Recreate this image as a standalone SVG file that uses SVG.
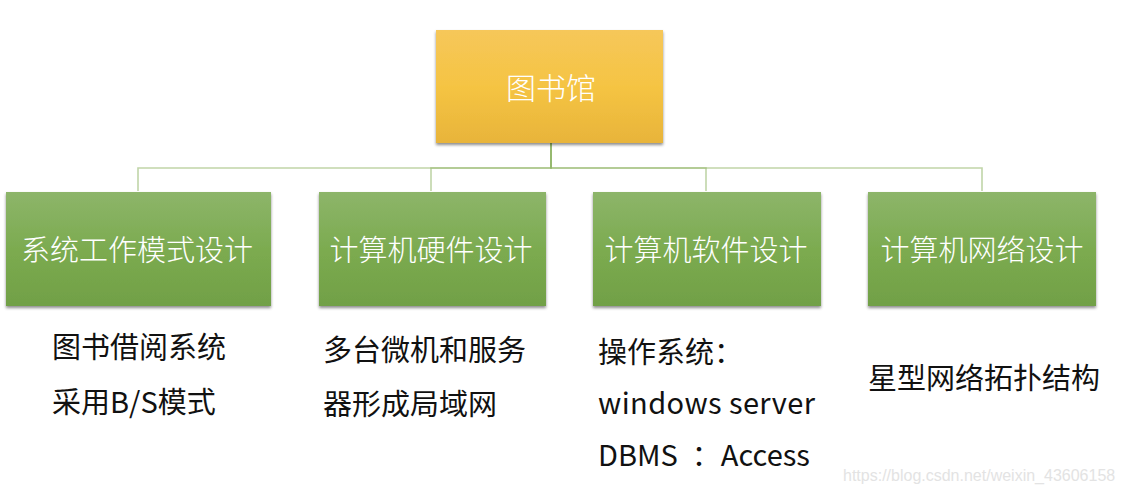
<svg xmlns="http://www.w3.org/2000/svg" width="1124" height="494" viewBox="0 0 1124 494">
  <defs>
    <linearGradient id="gold" x1="0" y1="0" x2="0" y2="1">
      <stop offset="0" stop-color="#f6c75a"/>
      <stop offset="0.5" stop-color="#f5c443"/>
      <stop offset="1" stop-color="#e8b43a"/>
    </linearGradient>
    <linearGradient id="green" x1="0" y1="0" x2="0" y2="1">
      <stop offset="0" stop-color="#8db56a"/>
      <stop offset="0.5" stop-color="#7cab50"/>
      <stop offset="1" stop-color="#71a046"/>
    </linearGradient>
    <filter id="shadow" x="-5%" y="-10%" width="110%" height="125%">
      <feDropShadow dx="0" dy="2" stdDeviation="1.8" flood-color="#000" flood-opacity="0.45"/>
    </filter>
  </defs>
  <style>
    .box { filter: url(#shadow); }
    .lbl { font-family: "Noto Sans CJK SC", "Noto Sans", sans-serif; font-weight: 300; fill: #ffffff; text-anchor: middle; dominant-baseline: central; }
    .desc { font-family: "Noto Sans CJK SC", "Noto Sans", sans-serif; font-weight: 400; fill: #111111; font-size: 29px; }
    .conn { fill: none; stroke: #8cb360; stroke-opacity: 0.55; stroke-width: 1.6; }
  </style>
  <rect width="1124" height="494" fill="#ffffff"/>

  <g id="connectors">
    <path class="conn" d="M551,143 V168 H138 V191"/>
    <path class="conn" d="M551,143 V168 H431 V191"/>
    <path class="conn" d="M551,143 V168 H706 V191"/>
    <path class="conn" d="M551,143 V168 H982 V191"/>
  </g>

  <g id="node-library">
    <rect class="box" x="436" y="30" width="227" height="113" fill="url(#gold)"/>
    <text class="lbl" x="551" y="86" font-size="30">图书馆</text>
  </g>

  <g id="node-mode">
    <rect class="box" x="6" y="192" width="265" height="114" fill="url(#green)"/>
    <text class="lbl" x="137" y="248" font-size="29">系统工作模式设计</text>
  </g>
  <g id="node-hardware">
    <rect class="box" x="319" y="192" width="227" height="114" fill="url(#green)"/>
    <text class="lbl" x="431" y="248" font-size="29">计算机硬件设计</text>
  </g>
  <g id="node-software">
    <rect class="box" x="593" y="192" width="228" height="114" fill="url(#green)"/>
    <text class="lbl" x="706" y="248" font-size="29">计算机软件设计</text>
  </g>
  <g id="node-network">
    <rect class="box" x="868" y="192" width="228" height="114" fill="url(#green)"/>
    <text class="lbl" x="982" y="248" font-size="29">计算机网络设计</text>
  </g>

  <g id="desc-mode">
    <text class="desc" x="52" y="358">图书借阅系统</text>
    <text class="desc" x="52" y="413">采用B/S模式</text>
  </g>
  <g id="desc-hardware">
    <text class="desc" x="323" y="361">多台微机和服务</text>
    <text class="desc" x="323" y="415">器形成局域网</text>
  </g>
  <g id="desc-software">
    <text class="desc" x="598" y="363">操作系统：</text>
    <text class="desc" x="598" y="414" textLength="217" lengthAdjust="spacing">windows server</text>
    <text class="desc" x="598" y="466">DBMS<tspan dx="14">：</tspan><tspan dx="0">Access</tspan></text>
  </g>
  <g id="desc-network">
    <text class="desc" x="868" y="389">星型网络拓扑结构</text>
  </g>

  <text x="843" y="481" font-family="Liberation Sans, Arial, sans-serif" font-size="16" fill="#e3e3e3">https://blog.csdn.net/weixin_43606158</text>
</svg>
